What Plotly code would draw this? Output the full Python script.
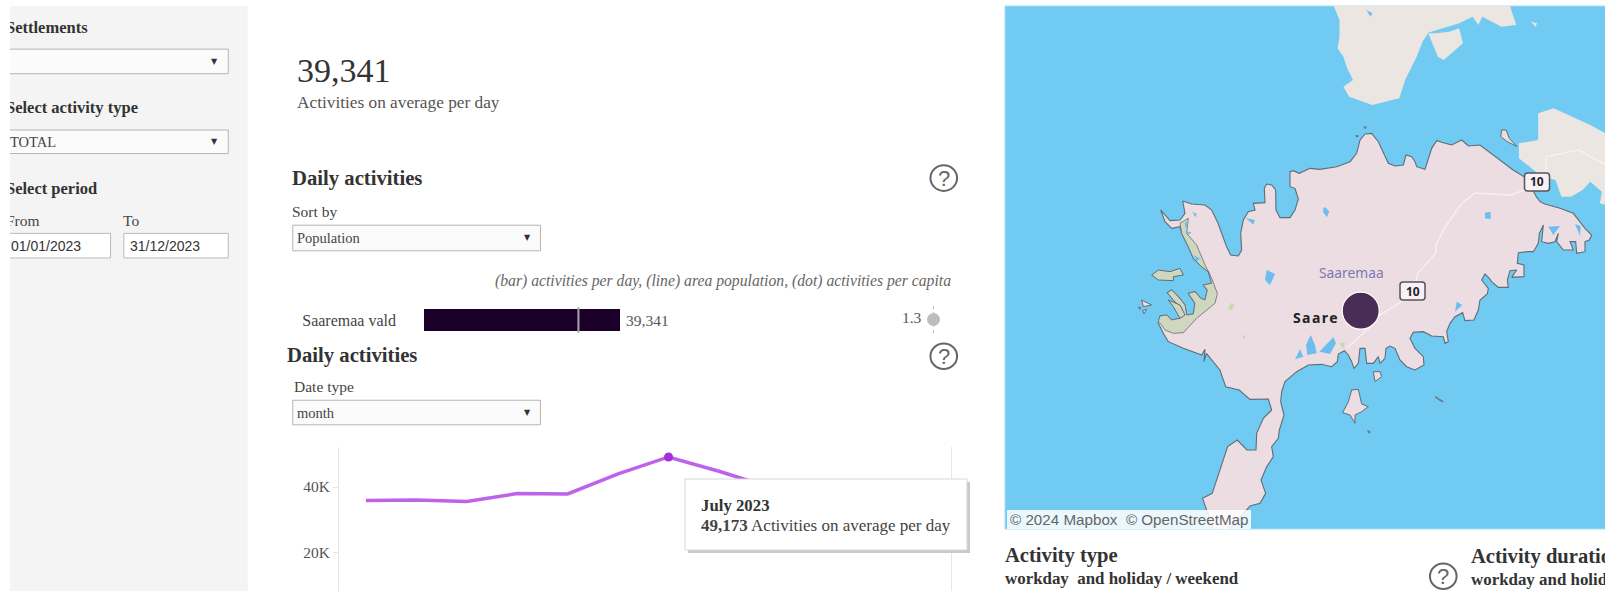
import plotly.graph_objects as go

W, H = 1605, 591
S = 1605 / 1568
SERIF = "Liberation Serif"
SANS = "Liberation Sans"

# ---- data ----
months = ["Jan 2023", "Feb 2023", "Mar 2023", "Apr 2023", "May 2023", "Jun 2023",
          "Jul 2023", "Aug 2023", "Sep 2023", "Oct 2023", "Nov 2023", "Dec 2023"]
activities = [35900, 36000, 35600, 38000, 37900, 44000, 49173, 44800, 40000, 38000, 36500, 36200]
highlight_month = ["Jul 2023"]
highlight_value = [49173]
line_ticks = [20000, 40000]
line_tick_labels = ["20K", "40K"]
areas = ["Saaremaa vald"]
area_activities = [39341]
area_population = [31000]
area_per_capita = [1.3]

# ---- map geography, traced per survey sheet; converted to map units below ----
def sheet(x0, y0, pts, fx=3.0, fy=3.0):
    return [(x0 + a / fx, y0 + b / fy) for a, b in pts]

def north(pts): return sheet(1000, 0, pts, 2.592, 3.0)
def south(pts): return sheet(1000, 290, pts, 2.592, 3.0)
def west(pts): return sheet(1130, 190, pts)
def east(pts): return sheet(1400, 200, pts)
def bay(pts): return sheet(1250, 330, pts)
def top(pts): return sheet(1240, 120, pts)

saare_coast = (
    west([(158,33),(185,42),(225,45),(245,60),(262,95),(275,130),(290,170),(302,195),(325,198),(335,180),(332,130),(340,90),(355,65),(375,60)])
    + top([(40,250),(75,248),(73,205),(80,192),(95,195),(107,210),(108,270),(120,293),(150,293),(165,270),(175,237),(165,205),(150,200),(150,155),(160,152),(178,160),(210,145),(240,148),(290,140),(330,125),(350,100),(360,60),(375,42),(395,40),(415,65),(445,130),(465,138),(490,135),(498,105),(515,110),(525,125),(530,140),(555,148),(575,85),(590,62),(610,68),(635,75),(665,60),(685,78),(720,75)])
    + north([(1290,475),(1330,510),(1365,535),(1390,590)])
    + east([(420,5),(435,12),(480,25),(520,40),(555,85),(575,105),(568,120),(555,125),(555,155),(530,160),(527,125),(510,125),(520,150),(490,150),(470,125),(475,100),(465,125),(445,130),(425,125),(430,75),(418,100),(415,130),(400,155),(385,155),(355,158),(352,190),(372,195),(372,230),(335,232),(350,210),(330,212),(322,240),(325,262),(295,262),(275,245),(268,235),(255,222),(245,240),(265,265),(262,282),(240,300),(235,330),(222,360),(195,362),(188,338),(165,350),(150,370),(140,395),(145,425),(135,430),(130,410),(95,408),(70,395),(40,397),(30,415),(45,445),(70,470),(72,495),(45,510),(20,500)])
    + bay([(450,90),(440,70),(435,55),(420,48),(408,55),(405,85),(390,100),(385,80),(370,100),(350,100),(345,55),(330,55),(325,100),(312,115),(305,95),(295,75),(283,62),(265,72),(262,95),(245,110),(215,103),(175,105),(140,125),(105,155),(95,185),(92,215),(102,255),(88,300),(85,325),(65,350),(70,380),(50,410),(33,450),(47,490),(30,520),(0,528)])
    + south([(590,725),(555,725),(525,625),(550,610),(570,540),(590,470),(615,450),(640,480)])
    + bay([(18,360),(20,310),(40,265),(65,240),(55,207),(0,208)])
    + south([(620,300),(585,290),(570,240),(535,190)])
    + west([(222,515),(225,478),(215,495),(160,475),(115,455),(100,430),(85,400),(90,378),(110,375),(125,390),(150,385),(158,370),(155,355),(130,330),(112,308),(125,300),(145,320),(165,345),(170,375),(190,372),(195,340),(175,310),(195,305),(212,325),(225,330),(232,300),(220,285),(245,280),(235,245),(215,230),(190,205),(175,170),(155,130),(150,110),(125,115),(105,95),(92,60),(120,92),(150,90),(165,70),(158,33)])
)
green_area = west([(150,100),(175,85),(170,130),(200,165),(225,225),(245,265),(262,310),(255,340),(200,385),(160,428),(130,430),(105,420),(95,405),(85,395),(90,378),(110,375),(125,390),(150,385),(158,370),(155,355),(130,330),(112,308),(125,300),(145,320),(165,345),(170,375),(190,372),(195,340),(175,310),(195,305),(212,325),(225,330),(232,300),(220,285),(245,280),(235,245),(215,230),(190,205),(175,170),(155,130)])
green_islands = [
    west([(65,255),(85,240),(120,245),(150,235),(160,255),(130,260),(130,272),(85,270)]),
    west([(115,330),(150,345),(165,375),(150,385),(130,350)]),
]
land_islands = [
    west([(35,330),(65,345),(40,350)]),
    west([(25,352),(32,352),(30,358)]),
    west([(38,362),(50,358),(42,372)]),
    bay([(305,180),(325,178),(335,222),(355,230),(335,245),(315,255),(315,280),(300,255),(278,248),(295,215)]),
    bay([(370,125),(390,125),(395,140),(375,155)]),
    bay([(353,302),(360,304),(358,310)]),
    bay([(555,200),(565,205),(580,215),(570,212)]),
    top([(348,46),(355,48),(350,51)]),
    top([(372,20),(380,22),(375,26)]),
    north([(1300,390),(1312,390),(1320,415),(1340,440),(1315,425),(1298,410)]),
]
other_lands = [
    north([(865,18),(880,60),(880,110),(875,145),(890,170),(900,205),(915,240),(890,260),(905,290),(965,315),(1035,295),(1050,240),(1080,170),(1095,125),(1110,100),(1135,170),(1150,180),(1200,130),(1190,85),(1165,95),(1130,100),(1105,100),(1190,70),(1225,50),(1240,75),(1250,50),(1300,80),(1338,75),(1322,18)]),
    north([(1395,340),(1435,325),(1530,375),(1570,400),(1570,615),(1555,610),(1560,575),(1530,545),(1510,570),(1480,590),(1455,590),(1440,540),(1405,530),(1345,475),(1345,430),(1395,420)]),
    north([(1376,65),(1392,70),(1388,80)]),
]
lakes = [
    west([(188,65),(200,72),(195,82)]), west([(165,95),(175,100),(165,115)]), west([(165,122),(185,128),(175,135)]),
    west([(190,195),(210,205),(200,215)]), west([(350,85),(375,90),(370,103)]), west([(410,240),(435,252),(420,285),(405,270)]),
    west([(585,50),(598,65),(590,80),(578,65)]),
    east([(255,38),(272,35),(272,57),(255,55)]), east([(445,80),(480,78),(460,105)]), east([(525,72),(542,78),(540,108)]),
    east([(170,305),(187,315),(165,335)]),
    bay([(182,15),(195,45),(200,70),(172,75),(168,45)]), bay([(250,22),(258,40),(240,72),(208,65)]),
    bay([(150,58),(160,80),(135,88)]),
    top([(18,295),(45,300),(38,312)]), top([(250,262),(265,280),(262,290),(250,278)]),
    north([(950,30),(965,40),(960,50)]),
]
small_greens = [
    bay([(268,38),(285,38),(278,58)]),
    west([(303,338),(315,345),(302,362),(295,355)]),
    west([(338,433),(346,440),(340,450)]),
]
main_road = [(1525,190),(1510,195),(1475,193),(1462,203),(1445,227),(1436,245),(1436,253),(1418,273),(1416,282),(1401,302),(1380,315),(1370,327),(1347,348)]
muhu_road = north([(1415,530),(1415,470),(1500,450),(1570,495)])
town_x = [1360.7]
town_y = [310.7]

def join(polys):
    xs, ys = [], []
    for p in polys:
        xs += [a for a, _ in p] + [p[0][0], None]
        ys += [b for _, b in p] + [p[0][1], None]
    return xs, ys

# ---- helpers (reference positions) ----
def px(x): return x / W
def py(y): return 1 - y / H

shapes = []
ann = []

def rect(x0, y0, x1, y1, fill="white", line=None, lw=1, layer="below", kind="rect"):
    shapes.append(dict(type=kind, xref="paper", yref="paper", x0=px(x0), x1=px(x1), y0=py(y0), y1=py(y1),
                       fillcolor=fill, line=dict(color=line or "rgba(0,0,0,0)", width=lw if line else 0), layer=layer))

def text(x, y, s, size=14, color="#444", family=SERIF, anchor="left", **kw):
    dx = {"left": -2, "right": 2, "center": 0}[anchor]
    ann.append(dict(xref="paper", yref="paper", x=px(x + dx), y=py(y), text=s, showarrow=False, xanchor=anchor,
                    yanchor="middle", font=dict(size=size, color=color, family=family), **kw))

def dropdown(x0, y0, x1, y1, label):
    rect(x0*S, y0*S, x1*S, y1*S, fill="#fbfbfb", line="#b5b5b5", lw=1)
    if label:
        text((x0+4)*S, (y0+y1)/2*S, label, size=14.5, color="#444")
    text((x1-13)*S, (y0+y1)/2*S, "▼", size=8, color="#333", anchor="center", family="DejaVu Sans")

def help_icon(x, y):
    rect((x-13)*S, (y-12.5)*S, (x+13)*S, (y+12.5)*S, fill="white", line="#666", lw=2, kind="circle", layer="below")
    text(x*S, y*S, "?", size=22, color="#666", anchor="center", family=SANS)

def shield(cx, cy):
    a, b, r = 12.5, 9, 3
    d = (f"M {px(cx-a+r)} {py(cy-b)} L {px(cx+a-r)} {py(cy-b)} Q {px(cx+a)} {py(cy-b)} {px(cx+a)} {py(cy-b+r)} "
         f"L {px(cx+a)} {py(cy+b-r)} Q {px(cx+a)} {py(cy+b)} {px(cx+a-r)} {py(cy+b)} "
         f"L {px(cx-a+r)} {py(cy+b)} Q {px(cx-a)} {py(cy+b)} {px(cx-a)} {py(cy+b-r)} "
         f"L {px(cx-a)} {py(cy-b+r)} Q {px(cx-a)} {py(cy-b)} {px(cx-a+r)} {py(cy-b)} Z")
    shapes.append(dict(type="path", path=d, xref="paper", yref="paper", fillcolor="#f7f0f9",
                       line=dict(color="#555", width=1.5), layer="above"))
    text(cx, cy, "<b>10</b>", size=12, color="#222", family="Noto Sans", anchor="center")

# ---- panels ----
rect(10*S, 6*S, 242*S, H + 2, fill="#f4f4f4")
rect(1005, 6, W + 2, 529, fill="#70caf1", line="#a9def3", lw=1)

text(6*S, 27*S, "<b>Settlements</b>", size=16.5, color="#333")
dropdown(6, 48, 223, 72, "")
text(6*S, 105*S, "<b>Select activity type</b>", size=16.5, color="#333")
dropdown(6, 127, 223, 150, "TOTAL")
text(6*S, 184*S, "<b>Select period</b>", size=16.5, color="#333")
text(6*S, 215*S, "From", size=15.5, color="#444")
text(120*S, 215*S, "To", size=15.5, color="#444")
rect(6*S, 228*S, 108*S, 252*S, fill="white", line="#bbb")
rect(121*S, 228*S, 223*S, 252*S, fill="white", line="#bbb")
text(11*S, 240*S, "01/01/2023", size=14, color="#333", family=SANS)
text(127*S, 240*S, "31/12/2023", size=14, color="#333", family=SANS)

text(290*S, 69*S, "39,341", size=34, color="#333")
text(290*S, 100*S, "Activities on average per day", size=17.3, color="#555")

text(285*S, 174*S, "<b>Daily activities</b>", size=20.7, color="#333")
help_icon(922, 174)
text(285*S, 207*S, "Sort by", size=15.5, color="#444")
dropdown(286, 220, 528, 245, "Population")
text(929*S, 275*S, "<i>(bar) activities per day, (line) area population, (dot) activities per capita</i>",
     size=15.7, color="#666", anchor="right")

text(280*S, 347*S, "<b>Daily activities</b>", size=20.7, color="#333")
help_icon(922, 348)
text(287*S, 378*S, "Date type", size=15.5, color="#444")
dropdown(286, 391, 528, 415, "month")

# tooltip
rect(688, 482, 970, 553, fill="#c9c9c9", layer="above")
rect(685, 479, 967, 550, fill="white", line="#d8d8d8", layer="above")
text(701, 505, "<b>July 2023</b>", size=16.8, color="#333")
text(701, 525, "<b>49,173</b> Activities on average per day", size=17, color="#444")

# map labels
text(1351, 273, "Saaremaa", size=13.8, color="#7a78b6", family="Noto Sans", anchor="center")
text(1315.6, 317.7, "<b>S\u200aa\u200aa\u200ar\u200ae</b>", size=14, color="#222", family="Noto Sans", anchor="center")
shield(1412.5, 291)
shield(1537, 182)
rect(1007, 510, 1251, 529, fill="rgba(255,255,255,0.85)", layer="above")
text(1010, 519.5, "© 2024 Mapbox  © OpenStreetMap", size=15.2, color="#666", family=SANS)

# bottom titles
text(982*S, 543*S, "<b>Activity type</b>", size=20.6, color="#333")
text(982*S, 565*S, "<b>workday  and holiday / weekend</b>", size=16.9, color="#333")
help_icon(1410, 563)
text(1437*S, 544*S, "<b>Activity duration</b>", size=20.6, color="#333")
text(1437*S, 566*S, "<b>workday and holiday / weekend</b>", size=16.9, color="#333")

# mask for the cropped left edge of the sidebar
ann.append(dict(xref="paper", yref="paper", x=0, y=1, xanchor="left", yanchor="top", text=" ", showarrow=False,
                width=10, height=H, bgcolor="white", borderpad=0, borderwidth=0))

# ---- traces ----
fig = go.Figure()
LINE = "#bd62ea"
fig.add_trace(go.Scatter(x=months, y=activities, mode="lines", line=dict(color=LINE, width=3.5), xaxis="x", yaxis="y"))
fig.add_trace(go.Scatter(x=highlight_month, y=highlight_value, mode="markers",
                         marker=dict(color="#a62fdc", size=9), xaxis="x", yaxis="y"))

fig.add_trace(go.Bar(y=areas, x=area_activities, orientation="h", marker=dict(color="#1b0029", line=dict(width=0)),
                     text=[f"\u2009{v:,}" for v in area_activities], textposition="outside", cliponaxis=False,
                     constraintext="none", textfont=dict(family=SERIF, size=15.5, color="#555"), xaxis="x2", yaxis="y2"))
fig.add_trace(go.Scatter(y=areas, x=area_population, mode="markers",
                         marker=dict(symbol="line-ns", size=18, line=dict(color="#a8a8a8", width=2)),
                         xaxis="x2", yaxis="y2", cliponaxis=False))

fig.add_trace(go.Scatter(x=area_per_capita + area_per_capita, y=[0, 1], mode="lines",
                         line=dict(color="#c4c4c4", width=1, dash="dot"), xaxis="x3", yaxis="y3"))
fig.add_trace(go.Scatter(x=area_per_capita, y=[0.5], mode="markers+text", text=[f"{v}\u2009" for v in area_per_capita],
                         textposition="middle left", cliponaxis=False, textfont=dict(family=SERIF, size=15.5, color="#555"),
                         marker=dict(color="#bdbdbd", size=13), xaxis="x3", yaxis="y3"))

COAST = "#5f6d78"
LAND = "#ecdde2"
GREEN = "#cfd8bf"
map_kw = dict(xaxis="x4", yaxis="y4", hoverinfo="skip")
ox, oy = join(other_lands)
fig.add_trace(go.Scatter(x=ox, y=oy, fill="toself", mode="none", fillcolor="#ebe6e1", **map_kw))
sx, sy = join([saare_coast])
fig.add_trace(go.Scatter(x=sx, y=sy, fill="toself", fillcolor=LAND, mode="lines", line=dict(color=COAST, width=1.1), **map_kw))
ix, iy = join(land_islands)
fig.add_trace(go.Scatter(x=ix, y=iy, fill="toself", fillcolor=LAND, mode="lines", line=dict(color=COAST, width=1), **map_kw))
gx, gy = join([green_area])
fig.add_trace(go.Scatter(x=gx, y=gy, fill="toself", mode="lines", fillcolor=GREEN, line=dict(color=COAST, width=0.8), **map_kw))
gx, gy = join(green_islands)
fig.add_trace(go.Scatter(x=gx, y=gy, fill="toself", mode="lines", fillcolor=GREEN, line=dict(color=COAST, width=1), **map_kw))
gx, gy = join(small_greens)
fig.add_trace(go.Scatter(x=gx, y=gy, fill="toself", mode="none", fillcolor="#c3dcae", **map_kw))
lx, ly = join(lakes)
fig.add_trace(go.Scatter(x=lx, y=ly, fill="toself", mode="none", fillcolor="#6dbdf0", **map_kw))
for road in (main_road, muhu_road):
    fig.add_trace(go.Scatter(x=[a for a, _ in road], y=[b for _, b in road], mode="lines",
                             line=dict(color="#f6eff6", width=1.5), **map_kw))
fig.add_trace(go.Scatter(x=town_x, y=town_y, mode="markers",
                         marker=dict(color="#4a2d56", size=37, line=dict(color="white", width=1.2)), **map_kw))

hidden = dict(visible=False, fixedrange=True)
fig.update_layout(
    template="none",
    width=W, height=H, autosize=False, margin=dict(l=0, r=0, t=0, b=0, pad=0),
    paper_bgcolor="white", plot_bgcolor="rgba(0,0,0,0)", showlegend=False, bargap=0, hovermode=False,
    font=dict(family=SERIF, color="#444"),
    shapes=shapes, annotations=ann,
    xaxis=dict(domain=[px(339), px(951)], type="category", categoryorder="array", categoryarray=months,
               range=[-0.533, 11.6], showticklabels=False, showgrid=False, zeroline=False, ticks="", anchor="y"),
    yaxis=dict(domain=[0, py(447.3)], range=[8244, 52122], tickvals=line_ticks, ticktext=line_tick_labels,
               showgrid=False, zeroline=False, showline=True, mirror=True, linecolor="#e6e6e6", linewidth=1,
               ticks="outside", ticklen=5, tickcolor="#e6e6e6", tickfont=dict(family=SERIF, size=15.5, color="#555"),
               anchor="x"),
    xaxis2=dict(domain=[px(424), px(620)], range=[0, area_activities[0]], anchor="y2", **hidden),
    yaxis2=dict(domain=[py(331), py(309)], range=[-0.5, 0.5], anchor="x2", showgrid=False, zeroline=False,
                showline=False, ticks="", ticklabelstandoff=27, tickfont=dict(family=SERIF, size=16, color="#444")),
    xaxis3=dict(domain=[px(920), px(947)], range=[0, 2.6], anchor="y3", **hidden),
    yaxis3=dict(domain=[py(333), py(306)], range=[0, 1], anchor="x3", **hidden),
    xaxis4=dict(domain=[px(1005), 1], range=[1005, 1605], anchor="y4", **hidden),
    yaxis4=dict(domain=[py(529), py(6)], range=[529, 6], anchor="x4", **hidden),
)

fig.write_html("out.html", config=dict(displayModeBar=False),
               post_script="document.body.style.margin='0';document.body.style.overflow='hidden';")
